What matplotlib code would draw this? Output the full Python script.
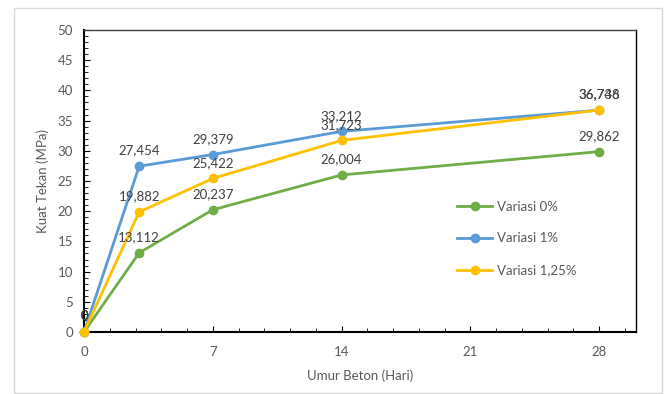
import matplotlib
matplotlib.use('Agg')
from matplotlib import pyplot as plt
from matplotlib.patches import Rectangle
from matplotlib.ticker import MultipleLocator

plt.rcParams['font.family'] = ['Lato', 'DejaVu Sans']

HARI = [0, 3, 7, 14, 28]
VARIASI_0 = [0, 13.112, 20.237, 26.004, 29.862]
VARIASI_1 = [0, 27.454, 29.379, 33.212, 36.736]
VARIASI_125 = [0, 19.882, 25.422, 31.723, 36.748]

SERIES = [
    ('Variasi 0%', VARIASI_0, '#70AD47'),
    ('Variasi 1%', VARIASI_1, '#5B9BD5'),
    ('Variasi 1,25%', VARIASI_125, '#FFC000'),
]

TEXT = '#595959'


def fmt(v):
    if v == 0:
        return '0'
    return ('%.3f' % v).replace('.', ',')


def main():
    fig = plt.figure(figsize=(6.72, 3.94), dpi=100)
    fig.patches.append(Rectangle((14 / 672, 1 / 394), 648 / 672, 385 / 394,
                                 transform=fig.transFigure, fill=False,
                                 edgecolor='#d9d9d9', linewidth=1))
    ax = fig.add_axes([84 / 672, 62 / 394, 552 / 672, 302 / 394])

    for name, vals, col in SERIES:
        ax.plot(HARI, vals, color=col, lw=2, marker='o', ms=6,
                label=name, clip_on=False, zorder=3)
    for name, vals, col in SERIES:
        for x, y in zip(HARI, vals):
            ax.annotate(fmt(y), (x, y), xytext=(0, 7),
                        textcoords='offset points', ha='center',
                        va='bottom', fontsize=9.5, color='#404040', zorder=4)

    ax.set_xlim(0, 30)
    ax.set_ylim(0, 50)
    ax.xaxis.set_major_locator(MultipleLocator(7))
    ax.xaxis.set_minor_locator(MultipleLocator(1.4))
    ax.yaxis.set_major_locator(MultipleLocator(5))
    ax.yaxis.set_minor_locator(MultipleLocator(1))
    ax.tick_params(which='both', direction='in', colors='black',
                   labelcolor=TEXT, labelsize=9.5)
    ax.tick_params(which='major', length=4)
    ax.tick_params(which='minor', length=3)
    ax.tick_params(axis='x', pad=10)
    ax.tick_params(axis='y', pad=8)

    for side in ['left', 'bottom']:
        ax.spines[side].set_linewidth(1.5)
    for side in ['top', 'right']:
        ax.spines[side].set_linewidth(1)
    ax.spines['top'].set_color('#404040')

    ax.set_xlabel('Umur Beton (Hari)', fontsize=9.5, color=TEXT, labelpad=8)
    ax.set_ylabel('Kuat Tekan (MPa)', fontsize=9.5, color=TEXT, labelpad=6)

    ax.legend(loc='center left', bbox_to_anchor=(0.655, 0.31), frameon=False,
              fontsize=9.5, labelcolor=TEXT, labelspacing=1.5,
              handlelength=2.6, handletextpad=0.4)

    fig.savefig('out.png', dpi=100)


if __name__ == '__main__':
    main()
